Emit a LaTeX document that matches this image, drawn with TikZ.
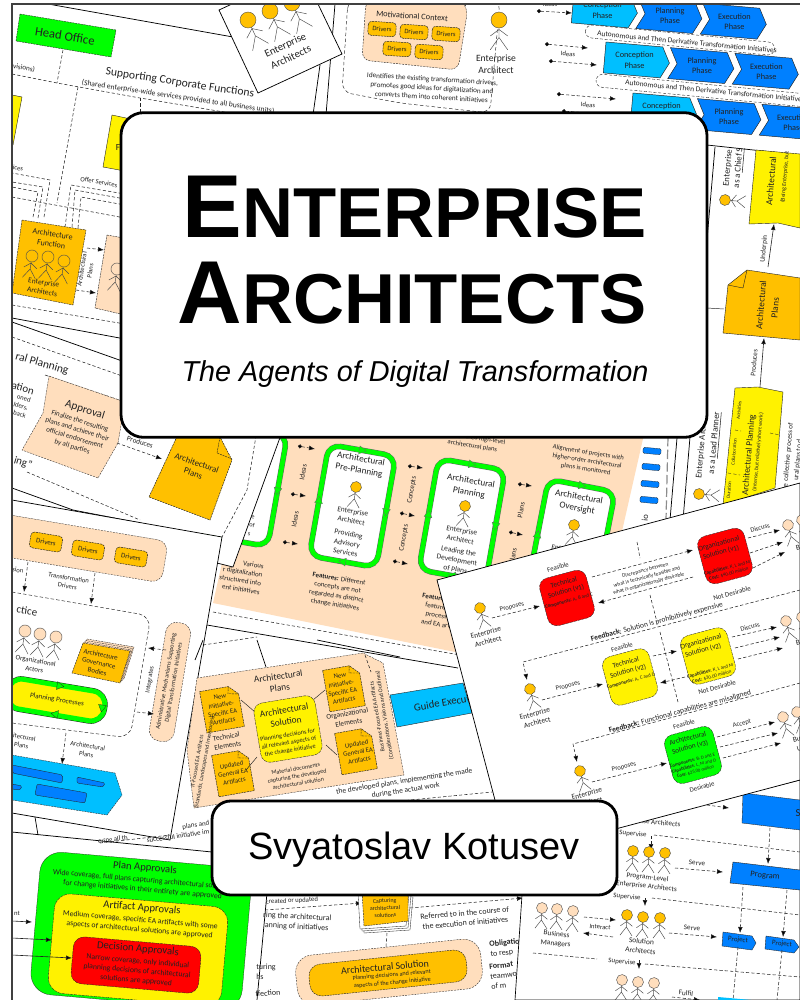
\documentclass[tikz,border=0pt]{standalone}
\usepackage{fontspec}
\setmainfont{Carlito}
\newfontfamily\arial{Liberation Sans}
\usetikzlibrary{arrows.meta}
\definecolor{peach}{HTML}{FFDEBD}
\definecolor{orng}{HTML}{FFC000}
\definecolor{lblue}{HTML}{00BFFF}
\definecolor{mblue}{HTML}{0080FF}
\definecolor{lime}{HTML}{00FF00}
\definecolor{ink}{HTML}{222222}
\newcommand\labfont[1]{\fontsize{#1}{#1}\selectfont\baselineskip=1.25\baselineskip\relax}
\tikzset{
 lab/.style={font={\labfont{#1}},align=center,inner sep=0pt,text=ink},
 ln/.style={draw=black,line width=.55pt},
 thin line/.style={draw=ink,line width=.35pt},
 dsh/.style={draw=ink,line width=.4pt,dash pattern=on 2.4pt off 1.6pt},
 da/.style={dsh,-{Latex[length=4.5pt,width=3.5pt,fill=black]}},
 idea/.style={dsh,{Circle[length=3pt,fill=black]}-{Latex[length=4.5pt,width=3.5pt,fill=black]}},
 sa/.style={draw=ink,line width=.45pt,-{Latex[length=4.5pt,width=3.5pt,fill=black]}},
 stick/.style={draw=black!70,line width=.35pt},
 pill/.style={fill=orng,draw=ink,line width=.35pt,dash pattern=on 1.5pt off .6pt,rounded corners=2.6pt},
 titlebox/.style={fill=white,draw=black,line width=2.1pt,rounded corners=17pt},
}
% rotated rectangle: style, cx, cy, rot, w, h
\newcommand\rbox[6]{\path[#1,shift={(#2,#3)},rotate=#4] (-#5/2,-#6/2) rectangle (#5/2,#6/2);}
% actor: cx, cy of head, rot, radius, fill
\newcommand\actor[5]{\begin{scope}[shift={(#1,#2)},rotate=#3,scale=#4/5.5]
 \draw[stick] (-6,11)--(0,6.5)--(6,11) (0,5.5)--(0,12) (-6,20.5)--(0,12)--(6,20.5);
 \path[fill=#5,draw=black!70,line width=.3pt] (0,0) circle (5.5);
 \end{scope}}
% document: cx,cy,rot,w,h
\newcommand\docu[5]{\begin{scope}[shift={(#1,#2)},rotate=#3]
 \path[fill=orng,draw=ink,line width=.35pt,dash pattern=on 1.5pt off .6pt] (-#4/2,-#5/2)--(#4/2-9,-#5/2)--(#4/2,-#5/2+9)--(#4/2,#5/2)--(-#4/2,#5/2)--cycle;
 \draw[ink,line width=.3pt,dash pattern=on 1.5pt off .6pt] (#4/2-9,-#5/2)--(#4/2-10.5,-#5/2+7)--(#4/2,-#5/2+9);
 \end{scope}}
% green loop: cx,cy,rot,w,h
\newcommand\greenloop[5]{\begin{scope}[shift={(#1,#2)},rotate=#3]
 \path[fill=white,draw=black!60,line width=4.2pt,rounded corners=9pt] (-#4/2,-#5/2) rectangle (#4/2,#5/2);
 \path[draw=lime,line width=3.5pt,rounded corners=9pt] (-#4/2,-#5/2) rectangle (#4/2,#5/2);
 \path[fill=lime,draw=black!60,line width=.2pt] (-3,-#5/2-4)--(4,-#5/2)--(-3,-#5/2+4)--cycle;
 \path[fill=lime,draw=black!60,line width=.2pt] (3,#5/2-4)--(-4,#5/2)--(3,#5/2+4)--cycle;
 \path[fill=lime,draw=black!60,line width=.2pt] (#4/2-4,-3)--(#4/2,4)--(#4/2+4,-3)--cycle;
 \path[fill=lime,draw=black!60,line width=.2pt] (-#4/2-4,3)--(-#4/2,-4)--(-#4/2+4,3)--cycle;
 \end{scope}}
% chevron: x0, colour, text (inside a rotated scope)
\newcommand\chev[3]{\path[fill=#2,draw=ink,line width=.35pt] (#1,0)--(#1+57,0)--(#1+65,15.5)--(#1+57,31)--(#1,31)--(#1+8,15.5)--cycle;
 \node[lab=6.2] at (#1+33,15.5) {#3};}
\newcommand\chevstart[3]{\path[fill=#2,draw=ink,line width=.35pt] (#1,0)--(#1+57,0)--(#1+65,15.5)--(#1+57,31)--(#1,31)--cycle;
 \node[lab=6.2] at (#1+30,15.5) {#3};}
\begin{document}
\begin{tikzpicture}[x=.75pt,y=-.75pt]
\useasboundingbox (0,0) rectangle (800,1000);
\fill[white] (0,0) rectangle (800,1000);
\begin{scope}
\clip (12,4) rectangle (800,1000);

% ---------- sheet 1: head office
\draw[ln] (48,4)--(233,37);
\path[fill=lime,draw=ink,line width=.3pt,dash pattern=on 1.5pt off .6pt] (20,14)--(116,30)--(111,57)--(16,41)--cycle;
\node[lab=9.5,rotate=-9] (head) at (65,36) {Head Office};
\draw[dsh] (63,50)--(57,83);
\draw[dsh] (12,74)--(57,83)--(140,98)--(260,118);
\node[lab=5.4,rotate=-9] at (24,68) {visions)};
\node[lab=8.7,rotate=-8.5] (scf) at (180,83) {Supporting Corporate Functions};
\node[lab=5.7,rotate=-8.5] at (178,97) {(Shared enterprise-wide services provided to all business units)};
\draw[dsh] (78,87)--(57,203);
\draw[dsh] (140,98)--(140,115);
\path[fill=yellow,draw=ink,line width=.3pt] (12,95)--(22,97)--(13,145)--(12,145)--cycle;
\path[fill=yellow,draw=ink,line width=.3pt] (112,115)--(140,121)--(130,172)--(103,167)--cycle;
\node[lab=7] at (118,148) {F};
% service bundles
\draw[dsh] (33,217)--(38,192)--(12,187) (38,218)--(43,187)--(12,182) (44,217)--(50,180)--(12,173);
\draw[dsh] (65,227)--(71,185)--(125,194) (72,227)--(75,190)--(125,199) (78,228)--(81,197)--(125,205);
\node[lab=5,rotate=-10] at (18,168) {ices};
\node[lab=5,rotate=-10] at (99,182) {Offer Services};
\draw[dsh] (12,197)--(125,218);
\path[fill=orng,draw=ink,line width=.3pt,dash pattern=on 1.5pt off .6pt] (22,220)--(86,230)--(73,305)--(12,293)--cycle;
\node[lab=6,rotate=-9] at (52,239) {Architecture\\Function};
\actor{32}{256}{-8}{6}{orng}\actor{48}{257}{-8}{6}{orng}\actor{64}{261}{-8}{6}{orng}
\node[lab=5.6,rotate=-9] at (43,287) {Enterprise\\Architects};
\path[fill=peach,draw=ink,line width=.3pt,dash pattern=on 1.5pt off .6pt] (107,235)--(135,240)--(125,315)--(95,308)--cycle;
\actor{117}{269}{-8}{6}{peach}
\draw[da] (87,248)--(104,250);
\draw[da] (76,290)--(96,293);
\node[lab=5,rotate=81] at (86,270) {Architectural\\Plans};
\draw[dsh] (12,305)--(125,324);

% ---------- peach centre sheet
\path[fill=peach] (285,430)--(645,430)--(620,540)--(470,655)--(213,603)--(222,563)--(233,567)--cycle;
\greenloop{244}{485}{-10}{68}{113}
\draw[dsh] (213,612)--(460,655);
\draw[ln] (207,625)--(458,668);
\path[fill=lblue,draw=ink,line width=.3pt] (390,695)--(463,683)--(472,713)--(397,727)--cycle;
\node[lab=8,rotate=10] at (442,703) {Guide Execut};
\greenloop{352.5}{506}{-10}{68}{113}
\node[lab=6.9,rotate=-10] at (360,465) {Architectural\\Pre-Planning};
\actor{356}{487}{-8}{5.5}{orng}
\node[lab=5.6,rotate=-10] at (352,516) {Enterprise\\Architect};
\node[lab=5.6,rotate=-10] at (347,543) {Providing\\Advisory\\Services};
\greenloop{462}{520}{-10}{68}{113}
\node[lab=6.9,rotate=-10] at (470,487) {Architectural\\Planning};
\actor{465}{506}{-8}{5.5}{orng}
\node[lab=5.6,rotate=-10] at (461,535) {Enterprise\\Architect};
\node[lab=5.6,rotate=-10] at (457,560) {Leading the\\Development\\of Plans};
\greenloop{571}{541}{-11}{68}{113}
\node[lab=6.9,rotate=-10] at (578,503) {Architectural\\Oversight};
\actor{574}{525}{-8}{5.5}{orng}
\node[lab=5.6,rotate=-10] at (566,554) {Enterprise\\Architect};
\node[lab=5,rotate=-9] at (473,442) {with updated high-level\\architectural plans};
\node[lab=5,rotate=-9] at (587,461) {Alignment of projects with\\higher-order architectural\\plans is monitored};
\draw[idea] (298,446)--(315,449);
\draw[idea] (291,494)--(306,496);
\draw[idea] (283,542)--(298,544);
\node[lab=5.4,rotate=80] at (303,472) {Ideas};
\node[lab=5.4,rotate=80] at (295,519) {Ideas};
\draw[idea] (408,466)--(423,468);
\draw[idea] (400,513)--(415,516);
\draw[idea] (393,561)--(408,564);
\node[lab=5.4,rotate=80] at (412,490) {Concepts};
\node[lab=5.4,rotate=80] at (404,538) {Concepts};
\draw[idea] (518,484)--(532,486);
\draw[idea] (509,532)--(523,535);
\node[lab=5.4,rotate=80] at (521,510) {Plans};
\node[lab=5.4,rotate=80] at (513,556) {Plans};
\node[lab=5.2,rotate=-9,align=center] at (337,592) {\textbf{Features:} Different\\concepts are not\\regarded as distinct\\change initiatives};
\node[lab=5.2,rotate=-9,align=center] at (445,612) {\textbf{Features:} Various\\features in the\\process, such\\and EA artifacts};

% ---------- right column
\draw[ln] (677,438)--(670,520);
\draw[ln] (690,437)--(683,520);
\draw[draw=black!45,line width=.9pt,dash pattern=on 7pt off 2.5pt] (668,437)--(666,520);
\rbox{fill=mblue,draw=ink,line width=.2pt,rounded corners=1pt}{652}{451}{-5}{18}{6}
\rbox{fill=mblue,draw=ink,line width=.2pt,rounded corners=1pt}{651}{467}{-5}{18}{6}
\rbox{fill=mblue,draw=ink,line width=.2pt,rounded corners=1pt}{650}{484}{-5}{18}{6}
\rbox{fill=mblue,draw=ink,line width=.2pt,rounded corners=1pt}{649}{500}{-5}{18}{6}
\node[lab=6.5,rotate=85] at (645,518) {io};
\draw[ln] (707,145)--(800,155);
\draw[ln] (715,147)--(690,437);
\draw[thin line] (707,308)--(724,309);
\node[lab=6.6,rotate=85] at (728,168) {Enterprise};
\node[lab=6.6,rotate=85] at (739,168) {as a \underline{Chief S}};
\actor{725}{200}{85}{5.5}{orng}
\path[fill=yellow,draw=ink,line width=.3pt] (756,150)--(800,154)--(800,228)--(778,223)--(749,224)--cycle;
\node[lab=7,rotate=85] at (771,181) {Architectural};
\node[lab=4.4,rotate=85] at (785,177) {(Being Enterprise, but};
\draw[sa] (768,267)--(774,224);
\node[lab=5.4,rotate=85] at (764,249) {Underpin};
\path[fill=orng,draw=ink,line width=.3pt] (747,270)--(800,278)--(800,340)--(723,333)--(728,285)--cycle;
\draw[ink,line width=.3pt] (747,270)--(743,288)--(728,285);
\node[lab=7,rotate=85] at (761,305) {Architectural};
\node[lab=7,rotate=85] at (775,308) {Plans};
\draw[sa] (760,387)--(764,338);
\node[lab=5.4,rotate=85] at (754,363) {Produces};
\path[fill=yellow,draw=ink,line width=.3pt] (735,388)--(758,387)--(783,392)--(775,488)--(723,505)--cycle;
\draw[dsh,line width=.25pt] (728,473)--(740,475) (770,433)--(780,435) (766,494)--(769,496) (735,430)--(741,431);
\node[lab=6.8,rotate=85] at (749,455) {Architectural Planning};
\node[lab=4.2,rotate=85] at (758,452) {(Intense, but relatively short work)};
\node[lab=3.7,rotate=85] at (739,410) {Activities};
\node[lab=3.7,rotate=85] at (734,452) {Collaboration};
\node[lab=3.7,rotate=85] at (729,490) {Duration};
\node[lab=5.4,rotate=85] at (788,458) {the collective process of};
\node[lab=5.4,rotate=85] at (798,460) {ural plans to d};
\node[lab=6.6,rotate=85] at (702,443) {Enterprise Architect};
\node[lab=6.6,rotate=85] at (715,443) {as a \underline{Lead Planner}};
\actor{699}{494}{85}{5.5}{orng}

% ---------- phase chevrons
\begin{scope}[shift={(574,-8)},rotate=-5]
 \chevstart{0}{lblue}{Conception\\Phase}\chev{64.7}{mblue}{Planning\\Phase}\chev{129.4}{mblue}{Execution\\Phase}
\end{scope}
\begin{scope}[shift={(606,42)},rotate=-5]
 \chevstart{0}{lblue}{Conception\\Phase}\chev{64.7}{mblue}{Planning\\Phase}\chev{129.4}{mblue}{Execution\\Phase}
\end{scope}
\begin{scope}[shift={(633,93)},rotate=-5]
 \chevstart{0}{lblue}{Conception\\Phase}\chev{64.7}{mblue}{Planning\\Phase}\chev{129.4}{mblue}{Execution\\Phase}
\end{scope}
\rbox{fill=white,draw=ink,line width=.3pt,dash pattern=on 2.2pt off 1.4pt,rounded corners=5pt}{680}{40}{-5.5}{190}{13}
\rbox{fill=white,draw=ink,line width=.3pt,dash pattern=on 2.2pt off 1.4pt,rounded corners=5pt}{708}{91}{-5.5}{225}{13}
\node[lab=5.6,rotate=-5.5] at (687,42) {Autonomous and Then Derivative Transformation Initiatives};
\node[lab=5.6,rotate=-5.5] at (715,91) {Autonomous and Then Derivative Transformation Initiatives};
\draw[idea] (537,11)--(572,13);
\draw[idea] (545,44)--(588,48);
\draw[idea] (549,61)--(597,65);
\draw[idea] (557,94)--(616,99);
\draw[idea] (562,111)--(628,116);
\node[lab=5] at (550,4) {Ideas};
\node[lab=5,rotate=-5] at (568,54) {Ideas};
\node[lab=5,rotate=-5] at (588,105) {Ideas};

% ---------- motivational context
\path[fill=white,draw=ink,line width=.35pt,dash pattern=on 2.6pt off 1.8pt,rounded corners=7pt] (348,0)--(342,92)--(400,103)--(490,113)--(500,0)--cycle;
\path[fill=peach,draw=ink,line width=.3pt,dash pattern=on 1.5pt off .8pt,rounded corners=6pt] (366,0)--(362,60)--(458,70)--(468,8)--(460,0)--cycle;
\node[lab=6.3,rotate=-4] at (412,16) {Motivational Context};
\foreach \xx/\yy in {382/29,414/32,446/34,397/49,429/52}{
 \rbox{pill}{\xx}{\yy}{-4}{28}{14}
 \node[lab=5,rotate=-4] at (\xx,\yy) {Drivers};}
\actor{499}{20}{0}{8}{orng}
\node[lab=7.2] at (496,64) {Enterprise\\Architect};
\node[lab=5.4,rotate=-3.5] at (432,88) {Identifies the existing transformation drivers,\\promotes good ideas for digitalization and\\converts them into coherent initiatives};

% ---------- enterprise architects card
\draw[ln] (335,4)--(326,115);
\draw[ln] (320,65)--(313,115);
\path[fill=white,draw=black,line width=.55pt] (219,10)--(232,4)--(318,4)--(342,54)--(258,93)--cycle;
\actor{248}{20}{25}{8}{orng}\actor{270}{11}{25}{8}{orng}\actor{292}{3}{25}{8}{orng}
\node[lab=8,rotate=25] at (288,51) {Enterprise\\Architects};

% ---------- planning sheet
\path[fill=white] (12,322)--(120,360)--(282,432)--(233,567)--(217,563)--(222,537)--(12,500)--cycle;
\draw[ln] (282,432)--(233,567)--(217,563);
\draw[ln] (12,318)--(125,339);
\draw[ln] (12,322)--(125,362);
\draw[dsh] (12,337)--(125,377);
\draw[dsh] (45,375)--(125,402);
\node[lab=8.6,rotate=-16] at (42,364) {ral Planning};
\node[lab=8.2,rotate=-16] at (23,388) {ation};
\node[lab=5,rotate=-17,align=right] at (21,406) {oned\\lders,\\back};
\path[fill=peach,draw=ink,line width=.25pt,dash pattern=on 1.5pt off .8pt] (49,376)--(125,402)--(118,443)--(98,478)--(22,450)--(43,413)--cycle;
\node[lab=8.4,rotate=-17] at (85,410) {Approval};
\node[lab=5.3,rotate=-17] at (76,434) {Finalize the resulting\\plans and achieve their\\official endorsement\\by all parties};
\draw[da] (117,443)--(162,459);
\node[lab=5.4,rotate=-17] at (140,442) {Produces};
\path[fill=orng,draw=ink,line width=.35pt,dash pattern=on 1.5pt off .6pt] (180,430)--(220,437)--(232,460)--(210,520)--(149,497)--cycle;
\draw[ink,line width=.3pt,dash pattern=on 1.5pt off .6pt] (220,437)--(217,453)--(232,459);
\node[lab=6.6,rotate=-19] at (195,468) {Architectural\\Plans};
\node[lab=8.2,rotate=-17] at (23,463) {ing"};
\draw[dsh] (257,430)--(247,490)--(222,537);
\draw[dsh] (27,472)--(140,520);
\draw[ln] (12,488)--(73,510)--(140,523);
\node[lab=4.8,rotate=-10] at (253,517) {e};
\node[lab=4.8,rotate=-10] at (252,525) {of};
\node[lab=4.8,rotate=-10] at (249,534) {s};
\node[lab=5.2,rotate=-9,align=right] at (241,576) {Various\\r digitalization\\structured into\\ent initiatives};

% ---------- drivers sheet
\path[fill=white,draw=black,line width=.55pt] (12,500)--(222,537)--(170,840)--(12,813)--cycle;
\rbox{fill=peach,draw=ink,line width=.25pt,dash pattern=on 1.5pt off .8pt,rounded corners=8pt}{80}{548}{-9.5}{172}{42}
\foreach \xx/\yy in {46/542,88/550,131/557}{
 \rbox{pill}{\xx}{\yy}{-9.5}{32}{16}
 \node[lab=5.2,rotate=-9.5] at (\xx,\yy) {Drivers};}
\draw[da] (28,562)--(24,592);
\draw[da] (95,573)--(91,604);
\node[lab=5,rotate=-9.5] at (68,582) {Transformation\\Drivers};
\node[lab=5,rotate=-9.5] at (18,570) {sion};
\path[draw=ink,line width=.35pt,dash pattern=on 2.6pt off 1.6pt,rounded corners=9pt] (12,592)--(151,616)--(130,738)--(12,723);
\node[lab=8.2,rotate=-9.5] at (27,611) {ctice};
\actor{25}{631}{-9}{6}{peach}\actor{40}{634}{-9}{6}{peach}\actor{56}{637}{-9}{6}{peach}
\node[lab=5.2,rotate=-9.5] at (35,665) {Organizational\\Actors};
\foreach \dd in {4,2.5,1}{
 \path[fill=peach,draw=ink,line width=.25pt,dash pattern=on 1.5pt off .6pt,shift={(\dd,-\dd)}] (83,643)--(130,651)--(120,683)--(72,673)--cycle;}
\path[fill=orng,draw=ink,line width=.3pt,dash pattern=on 1.5pt off .6pt] (83,643)--(130,651)--(120,683)--(72,673)--cycle;
\node[lab=5.2,rotate=-12] at (99,663) {Architecture\\Governance\\Bodies};
\rbox{draw=ink,line width=4.4pt,rounded corners=10pt}{56}{700}{-9.5}{98}{30}
\rbox{fill=yellow,draw=lime,line width=3.7pt,rounded corners=10pt}{56}{700}{-9.5}{98}{30}
\foreach \xx/\yy/\rr in {60/686/-9.5,55/714/170,102/708/-100}{
 \path[fill=lime,draw=ink,line width=.2pt,shift={(\xx,\yy)},rotate=\rr] (-3,-4)--(4,0)--(-3,4)--cycle;}
\node[lab=5.3,rotate=-9.5] at (57,700) {Planning Processes};
\rbox{fill=peach,draw=ink,line width=.25pt,dash pattern=on 1.5pt off .8pt,rounded corners=8pt}{170}{682}{-9.5}{25}{120}
\node[lab=4.6,rotate=80.5] at (170,682) {Administrative Mechanisms Supporting\\Digital Transformation Initiatives};
\draw[da] (166,650)--(148,648);
\draw[da] (137,712)--(154,714);
\node[lab=5,rotate=80.5] at (150,680) {Integrates};
\draw[da] (66,733)--(62,764);
\node[lab=5,rotate=-9.5] at (87,750) {Architectural\\Plans};
\node[lab=5,rotate=-9.5] at (22,741) {hitectural\\Plans};
\path[fill=lblue,draw=ink,line width=.25pt,dash pattern=on 1.5pt off .6pt] (12,755)--(115,773)--(122,795)--(107,815)--(12,800)--cycle;
\path[fill=mblue,draw=ink,line width=.25pt,rounded corners=1.5pt] (12,765)--(63,775)--(62,783)--(12,773)--cycle;
\path[fill=mblue,draw=ink,line width=.25pt,rounded corners=1pt] (77,777)--(105,783)--(103,787)--(77,783)--cycle;
\path[fill=mblue,draw=ink,line width=.25pt,rounded corners=1.5pt] (37,784)--(87,793)--(85,803)--(35,795)--cycle;
\path[fill=mblue,draw=ink,line width=.25pt,rounded corners=1pt] (12,784)--(22,786)--(20,790)--(12,789)--cycle;

% ---------- bottom-left region
\draw[ln] (35,817)--(38,835);
\draw[ln] (12,832)--(212,852);
\node[lab=5.2,rotate=8] at (113,840) {ering all th};
\node[lab=5.2,rotate=8] at (198,825) {plans and s};
\node[lab=5.2,rotate=8] at (178,836) {successful initiative im};
\draw[dsh] (100,843)--(170,835);

% ---------- plan approvals
\rbox{fill=lime,draw=ink,line width=.2pt,rounded corners=16pt}{141}{931}{-5}{212}{143}
\rbox{fill=yellow,draw=ink,line width=.25pt,dash pattern=on 2.4pt off .6pt,rounded corners=12pt}{138}{950}{-5}{174}{100}
\rbox{fill=red,draw=ink,line width=.25pt,dash pattern=on 2.4pt off .6pt,rounded corners=8pt}{136}{965}{-5}{128}{47}
\node[lab=8,rotate=-5] at (145,868) {Plan Approvals};
\node[lab=5.8,rotate=-5] at (143,885) {Wide coverage, full plans capturing architectural solutions\\for change initiatives in their entirety are approved};
\node[lab=8,rotate=-5] at (142,908) {Artifact Approvals};
\node[lab=5.8,rotate=-5] at (140,925) {Medium coverage, specific EA artifacts with some\\aspects of architectural solutions are approved};
\node[lab=8,rotate=-5] at (138,949) {Decision Approvals};
\node[lab=5.8,rotate=-5] at (137,971) {Narrow coverage, only individual\\planning decisions of architectural\\solutions are approved};
\draw[sa] (12,921)--(32,922);
\draw[sa] (12,938)--(52,940);
\draw[sa] (12,955)--(72,958);
\node[lab=5] at (17,913) {nt};

% ---------- architectural plans sheet
\draw[ln] (203,640)--(195,660);
\draw[ln] (317,640)--(400,657);
\path[fill=peach,draw=ink,line width=.25pt,dash pattern=on 1.5pt off .8pt] (197,678)--(363,653)--(383,663)--(404,775)--(194,808)--(187,750)--cycle;
\draw[ln] (257,640)--(266,667);
\draw[dsh] (203,645)--(257,637);
\docu{222}{709}{10}{38}{42}
\docu{344}{688}{10}{36}{42}
\docu{233}{773}{10}{36}{42}
\docu{356}{751}{10}{36}{42}
\draw[thin line] (241,700)--(255,712) (325,690)--(313,700) (246,770)--(257,757) (326,745)--(337,755);
\rbox{fill=yellow,draw=ink,line width=.25pt,dash pattern=on 2.4pt off .6pt,rounded corners=7pt}{288}{729}{9.5}{62}{60}
\node[lab=7,rotate=9.5] at (285,716) {Architectural\\Solution};
\node[lab=4.7,rotate=9.5] at (289,743) {Planning decisions for\\all relevant aspects of\\the change initiative};
\node[lab=7,rotate=8] at (279,682) {Architectural\\Plans};
\node[lab=5,rotate=10] at (222,709) {New\\Initiative-\\Specific EA\\Artifacts};
\node[lab=5,rotate=10] at (342,688) {New\\Initiative-\\Specific EA\\Artifacts};
\node[lab=5,rotate=10] at (233,773) {Updated\\General EA\\Artifacts};
\node[lab=5,rotate=10] at (358,752) {Updated\\General EA\\Artifacts};
\node[lab=5.4,rotate=10] at (227,741) {Technical\\Elements};
\node[lab=5.4,rotate=10] at (348,718) {Organizational\\Elements};
\node[lab=4.5,rotate=10] at (297,776) {Material documents\\capturing the developed\\architectural solution};
\node[lab=4.3,rotate=80] at (201,762) {IT-Focused EA Artifacts\\(Standards, Landscapes and Inventories)};
\node[lab=4.4,rotate=99] at (381,716) {Business-Focused EA Artifacts\\(Considerations, Visions and Outlines)};
\draw[dsh] (365,655)--(371,672);
\node[lab=5.6,rotate=9] at (405,786) {the developed plans, implementing the made\\during the actual work};
\draw[dsh] (390,802)--(492,792);

% ---------- bottom-left sheet
\path[fill=white] (267,893)--(523,893)--(515,1000)--(257,1000)--cycle;
\draw[ln] (267,893)--(257,1000);
\draw[da] (265,910)--(362,903);
\node[lab=5,rotate=3] at (292,901) {created or updated};
\node[lab=6,rotate=-3] at (297,922) {ring the architectural\\anning of initiatives};
\foreach \dd in {5,3,1}{
 \path[fill=white,draw=ink,line width=.25pt,shift={(\dd-5,\dd)}] (362,892)--(413,892)--(410,925)--(364,928)--cycle;}
\path[fill=orng,draw=ink,line width=.3pt,dash pattern=on 1.5pt off .6pt] (362,890)--(408,888)--(408,921)--(364,926)--cycle;
\node[lab=4.4,rotate=3] at (385,908) {Capturing\\architectural\\solutions};
\draw[da] (410,908)--(523,898);
\node[lab=6,rotate=5] at (465,918) {Referred to in the course of\\the execution of initiatives};
\draw[dsh] (387,933)--(386,947);
\node[lab=6,align=left] at (266,972) {turing\\hs};
\node[lab=6,rotate=5] at (268,993) {ffection};
\rbox{fill=peach,draw=ink,line width=.25pt,dash pattern=on 1.5pt off .8pt,rounded corners=13pt}{389}{972}{6}{186}{50}
\rbox{fill=orng,draw=ink,line width=.3pt,dash pattern=on 1.5pt off .6pt,rounded corners=9pt}{388}{973}{6}{158}{32}
\node[lab=7.5,rotate=5] at (385,967) {Architectural Solution};
\node[lab=4.6,rotate=5] at (392,979) {Planning decisions and relevant\\aspects of the change initiative};
\node[lab=6,rotate=6,align=left] at (505,948) {\textbf{Obligatio}\\to resp};
\node[lab=6,rotate=6,align=left] at (505,975) {\textbf{Format}\\teamwor\\of m};

% ---------- org chart sheet
\path[fill=white,draw=black,line width=.5pt] (525,850)--(620,825)--(800,780)--(800,1000)--(515,1000)--cycle;
\draw[da] (707,805)--(729,808);
\path[fill=mblue,draw=ink,line width=.25pt] (743,793)--(800,800)--(800,830)--(742,823)--cycle;
\node[lab=8] at (798,813) {S};
\node[lab=5.4,rotate=-6] at (650,822) {Enterprise Architects};
\node[lab=5.2,rotate=-6] at (633,834) {Supervise};
\draw[da] (651,836)--(651,850);
\draw[dsh] (654,835)--(800,852);
\draw[da] (770,828)--(768,864);
\actor{633}{851}{-3}{5.5}{orng}\actor{649}{852}{-3}{5.5}{orng}\actor{665}{853}{-3}{5.5}{orng}
\node[lab=5.4,rotate=-6] at (647,882) {Program-Level\\Enterprise Architects};
\draw[da] (675,868)--(723,872);
\node[lab=5.4,rotate=-6] at (697,863) {Serve};
\path[fill=mblue,draw=ink,line width=.3pt] (733,862)--(800,870)--(810,880)--(800,890)--(730,883)--cycle;
\node[lab=6.4,rotate=-6] at (765,876) {Program};
\draw[da] (743,887)--(740,933);
\draw[da] (787,890)--(783,937);
\path[fill=mblue,draw=ink,line width=.25pt] (723,932)--(752,936)--(756,943)--(752,950)--(722,946)--cycle;
\node[lab=5.2,rotate=-6] at (738,940) {Project};
\path[fill=mblue,draw=ink,line width=.25pt] (766,936)--(794,940)--(799,947)--(794,953)--(765,949)--cycle;
\node[lab=5.2,rotate=-6] at (782,944) {Project};
\draw[dsh] (738,947)--(733,1000);
\draw[dsh] (782,950)--(777,1000);
\node[lab=5.2,rotate=-6] at (627,897) {Supervise};
\draw[da] (645,898)--(645,906);
\draw[dsh] (652,898)--(800,915);
\actor{627}{915}{-3}{5.5}{orng}\actor{643}{917}{-3}{5.5}{orng}\actor{660}{918}{-3}{5.5}{orng}
\node[lab=5.6,rotate=-6] at (641,946) {Solution\\Architects};
\actor{542}{908}{-3}{5.5}{peach}\actor{557}{909}{-3}{5.5}{peach}\actor{573}{911}{-3}{5.5}{peach}
\node[lab=5.6,rotate=-6] at (556,939) {Business\\Managers};
\draw[da] (584,917)--(616,920);
\draw[da] (613,937)--(583,933);
\node[lab=5,rotate=-6] at (600,927) {Interact};
\draw[da] (669,933)--(717,937);
\node[lab=5.4,rotate=-6] at (692,928) {Serve};
\draw[dsh] (533,953)--(597,959);
\draw[dsh] (645,964)--(800,977);
\node[lab=5.2,rotate=-6] at (622,962) {Supervise};
\draw[da] (639,960)--(639,969);
\actor{622}{980}{-3}{5.5}{peach}\actor{638}{982}{-3}{5.5}{peach}\actor{654}{983}{-3}{5.5}{peach}
\node[lab=5.4,rotate=-6] at (686,993) {Fulfil};
\draw[da] (672,997)--(700,1000);
\path[fill=lblue] (718,997)--(762,1001)--(762,1000)--(718,1000)--cycle;

% ---------- solutions sheet
\path[fill=white,draw=black,line width=.55pt] (437,580)--(800,483)--(800,780)--(510,857)--cycle;
\rbox{fill=red,draw=ink,line width=.25pt,dash pattern=on 2.4pt off .6pt,rounded corners=7pt}{567}{598}{15}{48}{49}
\node[lab=5.4,rotate=15] at (565,587) {Technical\\Solution (v1)};
\node[lab=3.7,rotate=15] at (569,601) {\textbf{Components:} A, B and C};
\rbox{fill=red,draw=ink,line width=.25pt,dash pattern=on 2.4pt off .6pt,rounded corners=7pt}{725}{556}{15}{48}{49}
\node[lab=5.4,rotate=15] at (720,548) {Organizational\\Solution (v1)};
\node[lab=3.7,rotate=15] at (728,571) {\textbf{Capabilities:} K, L and M\\\textbf{Cost:} \$40.00 million};
\node[lab=5,rotate=15] at (558,567) {Feasible};
\node[lab=5.2,rotate=15] at (732,593) {Not Desirable};
\node[lab=4.1,rotate=15] at (647,577) {Discrepancy between\\what is technically feasible and\\what is organizationally desirable};
\draw[da] (592,577)--(693,550);
\draw[da] (693,577)--(598,603);
\draw[da] (748,538)--(780,530);
\draw[da] (750,553)--(783,542);
\draw[da] (753,568)--(785,552);
\node[lab=5,rotate=15] at (760,528) {Discuss};
\actor{788}{525}{15}{5.5}{peach}\actor{802}{520}{15}{5.5}{peach}
\draw[dsh] (637,542)--(640,558) (650,595)--(657,622) (660,632)--(678,702);
\actor{480}{608}{15}{5.5}{orng}
\node[lab=5.6,rotate=15] at (487,637) {Enterprise\\Architect};
\draw[da] (492,618)--(540,606);
\node[lab=5,rotate=15] at (512,607) {Proposes};
\node[lab=5.6,rotate=15] at (657,622) {\textbf{Feedback:} Solution is prohibitively expensive};
\draw[da] (800,590)--(523,662)--(527,680);
\actor{530}{689}{15}{5.5}{orng}
\node[lab=5.6,rotate=15] at (536,718) {Enterprise\\Architect};
\draw[da] (542,700)--(603,684);
\node[lab=5,rotate=15] at (568,686) {Proposes};
\rbox{fill=yellow,draw=ink,line width=.25pt,dash pattern=on 2.4pt off .6pt,rounded corners=7pt}{630}{677}{15}{48}{50}
\node[lab=5.4,rotate=15] at (627,667) {Technical\\Solution (v2)};
\node[lab=3.7,rotate=15] at (631,681) {\textbf{Components:} A, C and D};
\rbox{fill=yellow,draw=ink,line width=.25pt,dash pattern=on 2.4pt off .6pt,rounded corners=7pt}{708}{656}{15}{48}{50}
\node[lab=5.4,rotate=15] at (702,646) {Organizational\\Solution (v2)};
\node[lab=3.7,rotate=15] at (711,674) {\textbf{Capabilities:} K, L and M\\\textbf{Cost:} \$30.00 million};
\node[lab=5,rotate=15] at (622,647) {Feasible};
\node[lab=5.2,rotate=15] at (717,687) {Not Desirable};
\draw[da] (653,656)--(677,651);
\draw[da] (685,677)--(660,683);
\draw[da] (732,637)--(777,627);
\draw[da] (735,648)--(780,637);
\draw[da] (738,659)--(783,648);
\node[lab=5,rotate=15] at (750,627) {Discuss};
\actor{786}{621}{15}{5.5}{peach}\actor{802}{617}{15}{5.5}{peach}
\node[lab=5.6,rotate=15] at (680,712) {\textbf{Feedback:} Functional capabilities are misaligned};
\draw[da] (800,683)--(573,744)--(577,762);
\actor{580}{771}{15}{5.5}{orng}
\node[lab=5.6,rotate=15] at (588,798) {Enterprise\\Architect};
\draw[da] (592,782)--(667,763);
\node[lab=5,rotate=15] at (624,767) {Proposes};
\rbox{fill=lime,draw=ink,line width=.25pt,dash pattern=on 2.4pt off .6pt,rounded corners=7pt}{693}{755}{15}{50}{50}
\node[lab=5.4,rotate=15] at (689,743) {Architectural\\Solution (v3)};
\node[lab=3.5,rotate=15] at (694,766) {\textbf{Components:} B, D and E\\\textbf{Capabilities:} L, M and O\\\textbf{Cost:} \$25.00 million};
\node[lab=5,rotate=15] at (684,724) {Feasible};
\node[lab=5,rotate=15] at (702,787) {Desirable};
\draw[da] (717,737)--(775,722);
\draw[da] (720,747)--(778,733);
\draw[da] (723,758)--(781,743);
\node[lab=5,rotate=15] at (742,724) {Accept};
\actor{783}{717}{15}{5.5}{peach}\actor{797}{712}{15}{5.5}{peach}
\node[lab=5.6,rotate=15] at (798,744) {Bu\\U};
\node[lab=5.6,rotate=15] at (798,548) {B};
\node[lab=5.6,rotate=15] at (798,643) {B};
\end{scope}
\draw[black!75,line width=1.1pt] (12,1000)--(12,4)--(800,4);

% ---------- title boxes
\node[titlebox,minimum width=439.5pt,minimum height=243.5pt,inner sep=0pt] (titlecard) at (414,275) {};
\node[inner sep=0pt,font=\arial\bfseries\fontsize{53}{53}\selectfont,anchor=base] (line1) at (415,237) {{\fontsize{67}{67}\selectfont E}NTERPRISE};
\node[inner sep=0pt,font=\arial\bfseries\fontsize{53}{53}\selectfont,anchor=base] (line2) at (412,323) {{\fontsize{67}{67}\selectfont A}RCHITECTS};
\node[inner sep=0pt,font=\arial\itshape\fontsize{21.6}{22}\selectfont,anchor=base] (subtitle) at (415,381) {The Agents of Digital Transformation};
\node[titlebox,rounded corners=14pt,minimum width=303.75pt,minimum height=70.5pt,inner sep=0pt] (authorcard) at (414.5,848) {};
\node[inner sep=0pt,font=\arial\fontsize{28.5}{28.5}\selectfont,anchor=base] (author) at (414,859) {Svyatoslav Kotusev};
\end{tikzpicture}
\end{document}
